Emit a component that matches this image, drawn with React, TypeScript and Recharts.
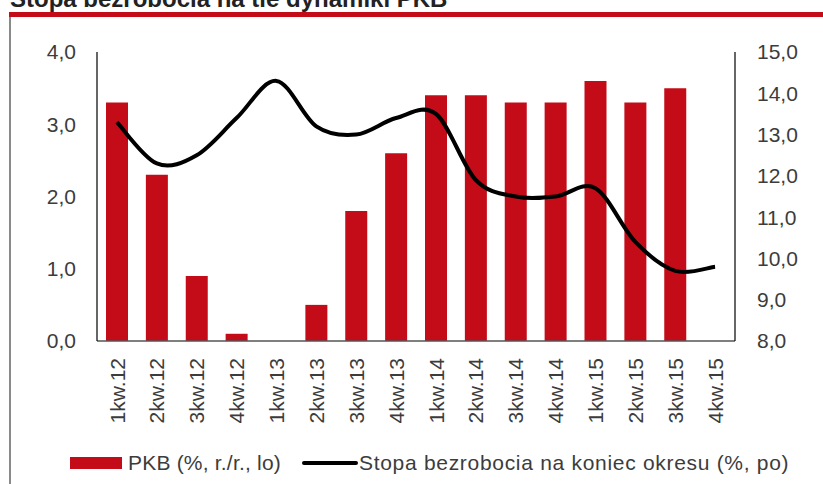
import React from "react";
import { ComposedChart, Bar, Line, XAxis, YAxis, Legend } from "recharts";

const categories = ["1kw.12","2kw.12","3kw.12","4kw.12","1kw.13","2kw.13","3kw.13","4kw.13","1kw.14","2kw.14","3kw.14","4kw.14","1kw.15","2kw.15","3kw.15","4kw.15"];
const gdp: (number | null)[] = [3.3, 2.3, 0.9, 0.1, null, 0.5, 1.8, 2.6, 3.4, 3.4, 3.3, 3.3, 3.6, 3.3, 3.5, null];
const unemployment: number[] = [13.3, 12.3, 12.5, 13.4, 14.3, 13.2, 13.0, 13.4, 13.5, 11.9, 11.5, 11.5, 11.7, 10.4, 9.7, 9.8];
const leftTicks = [0, 1, 2, 3, 4];
const rightTicks = [8, 9, 10, 11, 12, 13, 14, 15];

const data = categories.map((c, i) => ({ name: c, gdp: gdp[i], unemp: unemployment[i] }));

const RED = "#C40C18";
const FONT = "'Liberation Sans', Arial, sans-serif";
const TICK_COLOR = "#3c3c3c";

// Excel-like smoothing (Catmull-Rom through points)
const smoothCurve: any = (context: any) => {
  let pts: number[][] = [];
  return {
    areaStart() {},
    areaEnd() {},
    lineStart() { pts = []; },
    point(x: number, y: number) { pts.push([+x, +y]); },
    lineEnd() {
      if (!pts.length) return;
      context.moveTo(pts[0][0], pts[0][1]);
      for (let i = 0; i < pts.length - 1; i++) {
        const p0 = pts[i - 1] || pts[i];
        const p1 = pts[i];
        const p2 = pts[i + 1];
        const p3 = pts[i + 2] || p2;
        context.bezierCurveTo(
          p1[0] + (p2[0] - p0[0]) / 6, p1[1] + (p2[1] - p0[1]) / 6,
          p2[0] - (p3[0] - p1[0]) / 6, p2[1] - (p3[1] - p1[1]) / 6,
          p2[0], p2[1]
        );
      }
    },
  };
};

const fmt = (v: number) => v.toFixed(1).replace(".", ",");

const XTick = (props: any) => {
  const { x, y, payload } = props;
  return (
    <g transform={`translate(${x},${y})`}>
      <text x={0} y={0} dy="0.36em" textAnchor="end" transform="rotate(-90)" fill={TICK_COLOR} fontSize={21} fontFamily={FONT}>
        {payload.value}
      </text>
    </g>
  );
};

const LegendContent = () => (
  <div style={{ display: "flex", alignItems: "center", height: 26, fontFamily: FONT, fontSize: 21, color: TICK_COLOR, paddingLeft: 70, whiteSpace: "nowrap" }}>
    <span style={{ display: "inline-block", width: 52, height: 12, background: RED }} />
    <span style={{ marginLeft: 6, letterSpacing: 0.2 }}>PKB (%, r./r., lo)</span>
    <span style={{ display: "inline-block", width: 56, height: 4, background: "#000", marginLeft: 21, borderRadius: 2 }} />
    <span style={{ marginLeft: 1, letterSpacing: 0.7 }}>Stopa bezrobocia na koniec okresu (%, po)</span>
  </div>
);

export default function App() {
  return (
    <div style={{ position: "absolute", left: 0, top: 0, width: 823, height: 484, overflow: "hidden", background: "#fff" }}>
      <div style={{ position: "absolute", left: 10, top: -13, fontFamily: FONT, fontWeight: "bold", fontSize: 24, lineHeight: "24px", color: "#222", whiteSpace: "nowrap" }}>
        Stopa bezrobocia na tle dynamiki PKB
      </div>
      <div style={{ position: "absolute", left: 9, top: 12, width: 814, height: 5, background: RED }} />
      <div style={{ position: "absolute", left: 9, top: 17, width: 2, height: 467, background: "#8a8a8a" }} />
      <div style={{ position: "absolute", left: 0, top: 0 }}>
        <ComposedChart width={823} height={484} data={data} margin={{ top: 52, right: 0, bottom: 43, left: 0 }}>
          <XAxis
            dataKey="name"
            height={100}
            interval={0}
            tickLine={false}
            tickSize={0}
            tickMargin={17}
            axisLine={{ stroke: "#555", strokeWidth: 1.5 }}
            tick={<XTick />}
          />
          <YAxis
            yAxisId="left"
            orientation="left"
            width={97}
            domain={[0, 4]}
            ticks={leftTicks}
            tickFormatter={fmt}
            tickLine={false}
            tickSize={0}
            tickMargin={21}
            axisLine={{ stroke: "#000", strokeWidth: 1.2 }}
            tick={{ fill: TICK_COLOR, fontSize: 21, fontFamily: FONT }}
          />
          <YAxis
            yAxisId="right"
            orientation="right"
            width={88}
            domain={[8, 15]}
            ticks={rightTicks}
            tickFormatter={fmt}
            tickLine={false}
            tickSize={0}
            tickMargin={22}
            axisLine={{ stroke: "#000", strokeWidth: 1.2 }}
            tick={{ fill: TICK_COLOR, fontSize: 21, fontFamily: FONT, textAnchor: "start" }}
          />
          <Bar yAxisId="left" dataKey="gdp" fill={RED} barSize={22} isAnimationActive={false} />
          <Line yAxisId="right" dataKey="unemp" type={smoothCurve} stroke="#000" strokeWidth={4} dot={false} activeDot={false} isAnimationActive={false} />
          <Legend verticalAlign="middle" align="center" layout="horizontal" wrapperStyle={{ top: 450, left: 0, width: 823 }} content={<LegendContent />} />
        </ComposedChart>
      </div>
    </div>
  );
}
